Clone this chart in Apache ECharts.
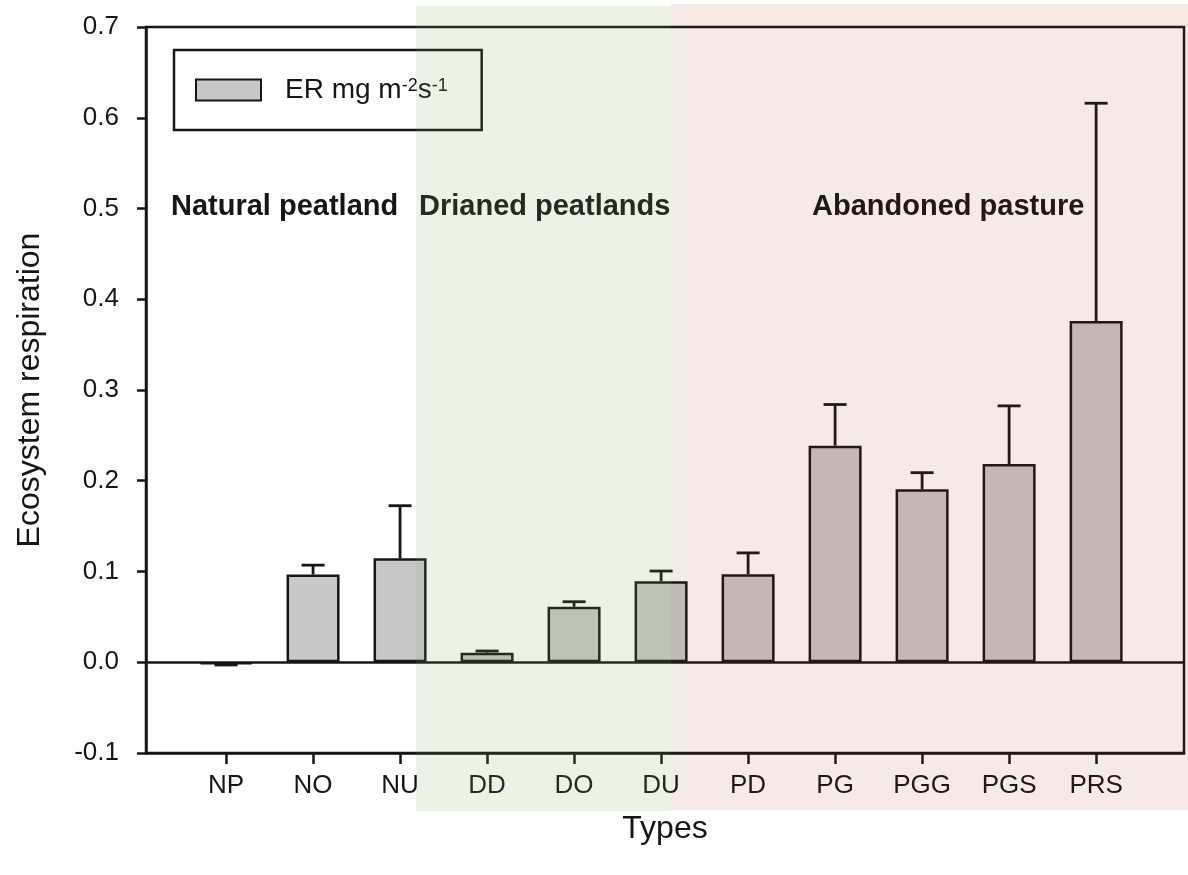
<!DOCTYPE html>
<html>
<head>
<meta charset="utf-8">
<script src="https://cdn.jsdelivr.net/npm/echarts@6/dist/echarts.min.js"></script>
<style>
html,body{margin:0;padding:0;background:#fff;}
#chart{width:1188px;height:875px;}
</style>
</head>
<body>
<div id="chart"></div>
<script>
// ---- data ----
var categories = ['NP', 'NO', 'NU', 'DD', 'DO', 'DU', 'PD', 'PG', 'PGG', 'PGS', 'PRS'];
var erValues   = [-0.002, 0.0967, 0.1145, 0.0105, 0.0612, 0.0892, 0.097, 0.2387, 0.1905, 0.2185, 0.376];
var erErrors   = [0.001, 0.0103, 0.058, 0.0019, 0.0055, 0.0113, 0.0235, 0.0453, 0.0184, 0.064, 0.240];
var yMin = -0.1, yMax = 0.7, yStep = 0.1;
var regionLabels = ['Natural peatland', 'Drianed peatlands', 'Abandoned pasture'];

var FONT = 'Liberation Sans, Arial, sans-serif';
var INK = '#161616';

var positions = categories.map(function (c, i) { return i + 1; });
var barData = erValues.map(function (v, i) { return [positions[i], v]; });
var errData = erValues.map(function (v, i) {
  return [positions[i], v, v >= 0 ? v + erErrors[i] : v - erErrors[i]];
});

var chart = echarts.init(document.getElementById('chart'), null, {renderer: 'canvas'});

var option = {
  backgroundColor: '#fff',
  animation: false,
  grid: {
    left: 146, right: 4, top: 27, bottom: 122,
    show: true, borderColor: INK, borderWidth: 2.5, backgroundColor: 'transparent'
  },
  legend: {
    left: 174, top: 50,
    orient: 'horizontal',
    borderColor: INK, borderWidth: 2.5,
    padding: [26, 34, 26, 21],
    itemWidth: 65, itemHeight: 21,
    icon: 'rect',
    data: ['ER'],
    formatter: function () { return '{p|ER mg m}{s|-2}{a|s}{s|-1}'; },
    textStyle: {
      fontFamily: FONT, color: INK, fontSize: 28,
      rich: {
        p: {fontFamily: FONT, fontSize: 28, color: INK, padding: [0, 0, 0, 19], lineHeight: 26},
        a: {fontFamily: FONT, fontSize: 28, color: INK, lineHeight: 26},
        s: {fontFamily: FONT, fontSize: 18, color: INK, verticalAlign: 'top', lineHeight: 14}
      }
    }
  },
  xAxis: {
    type: 'value',
    min: 0.08, max: 12.01,
    name: 'Types',
    nameLocation: 'middle',
    nameGap: 60,
    nameTextStyle: {fontFamily: FONT, fontSize: 32, color: INK},
    axisLine: {show: true, onZero: false, lineStyle: {color: INK, width: 2.5}},
    axisTick: {show: true, customValues: positions, length: 11, lineStyle: {color: INK, width: 2.5}},
    axisLabel: {
      customValues: positions,
      fontFamily: FONT, fontSize: 26, color: INK, margin: 20,
      formatter: function (v) { return categories[Math.round(v) - 1] || ''; }
    },
    splitLine: {show: false}
  },
  yAxis: {
    type: 'value',
    min: yMin, max: yMax, interval: yStep,
    name: 'Ecosystem respiration',
    nameLocation: 'middle',
    nameGap: 100,
    nameTextStyle: {fontFamily: FONT, fontSize: 32, color: INK},
    axisLine: {show: true, onZero: false, lineStyle: {color: INK, width: 2.5}},
    axisTick: {show: true, inside: false, length: 9, lineStyle: {color: INK, width: 2.5}},
    axisLabel: {
      fontFamily: FONT, fontSize: 26, color: INK, margin: 27,
      formatter: function (v) { return (Math.round(v * 10) / 10).toFixed(1); }
    },
    splitLine: {show: false}
  },
  series: [
    {
      name: 'ER',
      type: 'bar',
      data: barData,
      barWidth: 53,
      itemStyle: {color: '#c8c8c8', borderColor: INK, borderWidth: 2.5},
      z: 3,
      markLine: {
        silent: true,
        symbol: ['none', 'none'],
        label: {show: false},
        lineStyle: {color: INK, width: 2.5, type: 'solid'},
        data: [{yAxis: 0}],
        z: 4
      }
    },
    {
      name: 'err',
      type: 'custom',
      z: 2,
      data: errData,
      renderItem: function (params, api) {
        var x = api.value(0), v = api.value(1), e = api.value(2);
        var p0 = api.coord([x, v]);
        var p1 = api.coord([x, e]);
        var hw = 11.5;
        return {
          type: 'group',
          children: [
            {type: 'line', shape: {x1: p0[0], y1: p0[1], x2: p1[0], y2: p1[1]},
             style: {stroke: INK, lineWidth: 2.8}},
            {type: 'line', shape: {x1: p1[0] - hw, y1: p1[1], x2: p1[0] + hw, y2: p1[1]},
             style: {stroke: INK, lineWidth: 2.8}}
          ]
        };
      }
    }
  ],
  graphic: [
    {type: 'text', left: 171, top: 192, z: 50,
     style: {text: regionLabels[0], font: 'bold 29px ' + FONT, fill: INK}},
    {type: 'text', left: 419, top: 192, z: 50,
     style: {text: regionLabels[1], font: 'bold 29px ' + FONT, fill: INK}},
    {type: 'text', left: 812, top: 192, z: 50,
     style: {text: regionLabels[2], font: 'bold 29px ' + FONT, fill: INK}},
    {type: 'rect', left: 416, top: 6, z: 100, silent: true,
     shape: {width: 255, height: 805},
     style: {fill: 'rgba(128,168,88,0.15)'}},
    {type: 'rect', left: 671, top: 4, z: 100, silent: true,
     shape: {width: 517, height: 806},
     style: {fill: 'rgba(155,55,5,0.10)'}}
  ]
};
chart.setOption(option);
</script>
</body>
</html>
